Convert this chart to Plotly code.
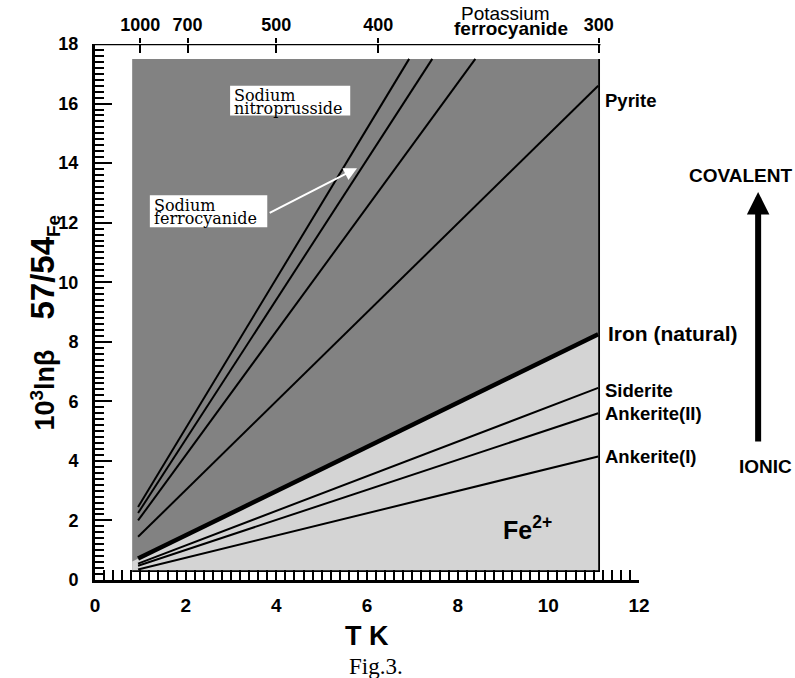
import plotly.graph_objects as go

# ---------------- data ----------------
line_names = ["Sodium nitroprusside", "Sodium ferrocyanide", "Potassium ferrocyanide",
              "Pyrite", "Iron (natural)", "Siderite", "Ankerite(II)", "Ankerite(I)"]
x_start = [0.95, 0.95, 0.95, 0.95, 0.95, 0.95, 0.95, 0.95]
y_start = [2.45, 2.25, 2.00, 1.45, 0.72, 0.55, 0.48, 0.35]
x_end = [6.93, 7.44, 8.39, 11.10, 11.10, 11.10, 11.10, 11.10]
y_end = [17.5, 17.5, 17.5, 16.6, 8.25, 6.45, 5.60, 4.15]
line_widths = [2, 2, 2, 2, 4.5, 2, 2, 2]

right_labels = ["Pyrite", "Iron (natural)", "Siderite", "Ankerite(II)", "Ankerite(I)"]
right_label_y = [16.1, 8.29, 6.35, 5.58, 4.16]

top_temps = [1000, 700, 500, 400, 300]          # K
x_ticks = [0, 2, 4, 6, 8, 10, 12]
y_ticks = [0, 2, 4, 6, 8, 10, 12, 14, 16, 18]

# shaded region extents
GRAY_X0, GRAY_X1 = 0.82, 11.12
GRAY_Y0, GRAY_Y1 = 0.30, 17.5

DARK = "#828282"
LIGHT = "#d4d4d4"
SANS = "Liberation Sans, Arial, sans-serif"
SERIF = "Liberation Serif, Times New Roman, serif"
OLDSERIF = "DejaVu Serif, serif"

fig = go.Figure()

# dark background region
fig.add_trace(go.Scatter(
    x=[GRAY_X0, GRAY_X1, GRAY_X1, GRAY_X0, GRAY_X0],
    y=[GRAY_Y0, GRAY_Y0, GRAY_Y1, GRAY_Y1, GRAY_Y0],
    fill="toself", fillcolor=DARK, mode="lines", line=dict(width=0),
    hoverinfo="skip", showlegend=False))

# light region below the iron line
iron = line_names.index("Iron (natural)")
slope_i = (y_end[iron] - y_start[iron]) / (x_end[iron] - x_start[iron])
iy0 = y_start[iron] + slope_i * (GRAY_X0 - x_start[iron])
fig.add_trace(go.Scatter(
    x=[GRAY_X0, GRAY_X0, x_end[iron], GRAY_X1, GRAY_X1, GRAY_X0],
    y=[GRAY_Y0, iy0, y_end[iron], y_end[iron], GRAY_Y0, GRAY_Y0],
    fill="toself", fillcolor=LIGHT, mode="lines", line=dict(width=0),
    hoverinfo="skip", showlegend=False))

# right and bottom edges of the shaded box
fig.add_trace(go.Scatter(x=[GRAY_X0, GRAY_X1, GRAY_X1], y=[GRAY_Y0, GRAY_Y0, GRAY_Y1], mode="lines",
                         line=dict(color="black", width=1.8), hoverinfo="skip", showlegend=False))

# fractionation lines
for i, name in enumerate(line_names):
    fig.add_trace(go.Scatter(
        x=[x_start[i], x_end[i]], y=[y_start[i], y_end[i]], mode="lines",
        line=dict(color="black", width=line_widths[i]), name=name, showlegend=False))

# invisible traces to carry the top temperature axes
top_pos = [1e6 / t ** 2 for t in top_temps]
for ax in ["x2", "x3"]:
    fig.add_trace(go.Scatter(x=top_pos, y=[18] * len(top_pos), xaxis=ax, mode="markers",
                             marker=dict(opacity=0), hoverinfo="skip", showlegend=False))

bold = dict(family=SANS, size=19, color="black", weight="bold")

fig.update_layout(
    width=795, height=678,
    margin=dict(l=95, r=156, t=44, b=98),
    paper_bgcolor="white", plot_bgcolor="white",
    xaxis=dict(range=[0, 12], tickvals=x_ticks, showgrid=False, zeroline=False,
               showline=True, linecolor="black", linewidth=3,
               ticks="inside", ticklen=10, tickwidth=2, tickcolor="black",
               minor=dict(dtick=0.2, ticks="inside", ticklen=10, tickwidth=2, tickcolor="black"),
               tickfont=bold, ticklabelstandoff=6),
    xaxis2=dict(range=[0, 12], overlaying="x", side="top", tickvals=top_pos,
                ticktext=[str(t) for t in top_temps], showgrid=False, zeroline=False,
                showline=False, ticks="outside", ticklen=5, tickwidth=1.5, tickcolor="black",
                tickfont=dict(family=SANS, size=18, color="black", weight="bold"),
                ticklabelstandoff=0),
    xaxis3=dict(range=[0, 12], overlaying="x", side="top", tickvals=top_pos,
                showticklabels=False, showgrid=False, zeroline=False, showline=False,
                ticks="inside", ticklen=9, tickwidth=1.5, tickcolor="black"),
    yaxis=dict(range=[0, 18], tickvals=y_ticks, showgrid=False, zeroline=False,
               showline=True, linecolor="black", linewidth=3,
               ticks="inside", ticklen=17, tickwidth=2, tickcolor="black",
               minor=dict(dtick=0.2, ticks="inside", ticklen=9, tickwidth=2, tickcolor="black"),
               tickfont=dict(family=SANS, size=18, color="black", weight="bold"),
               ticklabelstandoff=10),
    shapes=[
        dict(type="line", xref="x", yref="y", x0=0, x1=11.15, y0=18, y1=18,
             line=dict(color="black", width=2.5)),
        # white boxes behind the serif labels
        dict(type="rect", xref="x", yref="y", x0=2.98, x1=5.63, y0=15.6, y1=16.6,
             fillcolor="white", line=dict(width=0)),
        dict(type="rect", xref="x", yref="y", x0=1.21, x1=3.80, y0=11.85, y1=12.92,
             fillcolor="white", line=dict(width=0)),
    ],
)

ann = []
# right-side labels
for lab, yv in zip(right_labels, right_label_y):
    big = lab.startswith("Iron")
    ann.append(dict(x=11.2 if not big else 11.27, y=yv, xref="x", yref="y", text=lab,
                    showarrow=False, xanchor="left", yanchor="middle",
                    font=dict(family=SANS, size=21 if big else 18.5, color="black", weight="bold")))
# serif boxed labels (two tight lines each)
for txt, xl, yc in [("Sodium", 3.02, 16.28), ("nitroprusside", 3.02, 15.84),
                    ("Sodium", 1.26, 12.58), ("ferrocyanide", 1.26, 12.15)]:
    ann.append(dict(x=xl, y=yc, xref="x", yref="y", text=txt, showarrow=False,
                    xanchor="left", yanchor="middle",
                    font=dict(family=OLDSERIF, size=16, color="black")))
# white arrow to sodium ferrocyanide line
ann.append(dict(x=5.78, y=13.83, ax=3.82, ay=12.3, xref="x", yref="y", axref="x", ayref="y",
                text="", showarrow=True, arrowhead=2, arrowsize=1.3, arrowwidth=2,
                arrowcolor="white"))
# Potassium ferrocyanide (above top axis)
ann.append(dict(x=9.05, y=1.057, xref="x", yref="paper", text="Potassium", showarrow=False,
                xanchor="center", yanchor="middle",
                font=dict(family=SANS, size=19, color="black")))
ann.append(dict(x=9.18, y=1.029, xref="x", yref="paper", text="ferrocyanide", showarrow=False,
                xanchor="center", yanchor="middle",
                font=dict(family=SANS, size=19, color="black", weight="bold")))
# Fe2+
ann.append(dict(x=9.54, y=1.74, xref="x", yref="y", text="Fe<sup>2+</sup>", showarrow=False,
                xanchor="center", yanchor="middle",
                font=dict(family=SANS, size=25, color="black", weight="bold")))
# COVALENT / IONIC arrow (outside the plot area -> paper coordinates)
ann.append(dict(x=1.219, y=0.724, xref="paper", yref="paper", ax=0, ay=251,
                text="", showarrow=True, arrowhead=2, arrowsize=0.75, arrowwidth=6,
                arrowcolor="black", standoff=0, startstandoff=0))
ann.append(dict(x=1.186, y=0.755, xref="paper", yref="paper", text="COVALENT", showarrow=False,
                xanchor="center", yanchor="middle",
                font=dict(family=SANS, size=19, color="black", weight="bold")))
ann.append(dict(x=1.233, y=0.211, xref="paper", yref="paper", text="IONIC", showarrow=False,
                xanchor="center", yanchor="middle",
                font=dict(family=SANS, size=19, color="black", weight="bold")))
# axis titles
ann.append(dict(x=-0.094, y=0.48, xref="paper", yref="paper", textangle=-90,
                xanchor="center", yanchor="middle",
                text="10<sup>3</sup>lnβ\u00a0\u00a0\u00a0\u00a0<span style=\"font-size:33px\">57/54</span><sub>Fe</sub>",
                showarrow=False,
                font=dict(family=SANS, size=27, color="black", weight="bold")))
ann.append(dict(x=6.0, y=-0.105, xref="x", yref="paper", text="T K", showarrow=False,
                xanchor="center", yanchor="middle",
                font=dict(family=SANS, size=27, color="black", weight="bold")))
ann.append(dict(x=6.2, y=-0.162, xref="x", yref="paper", text="Fig.3.", showarrow=False,
                xanchor="center", yanchor="middle",
                font=dict(family=SERIF, size=23, color="black")))
fig.update_layout(annotations=ann)

fig.write_html("out.html")
